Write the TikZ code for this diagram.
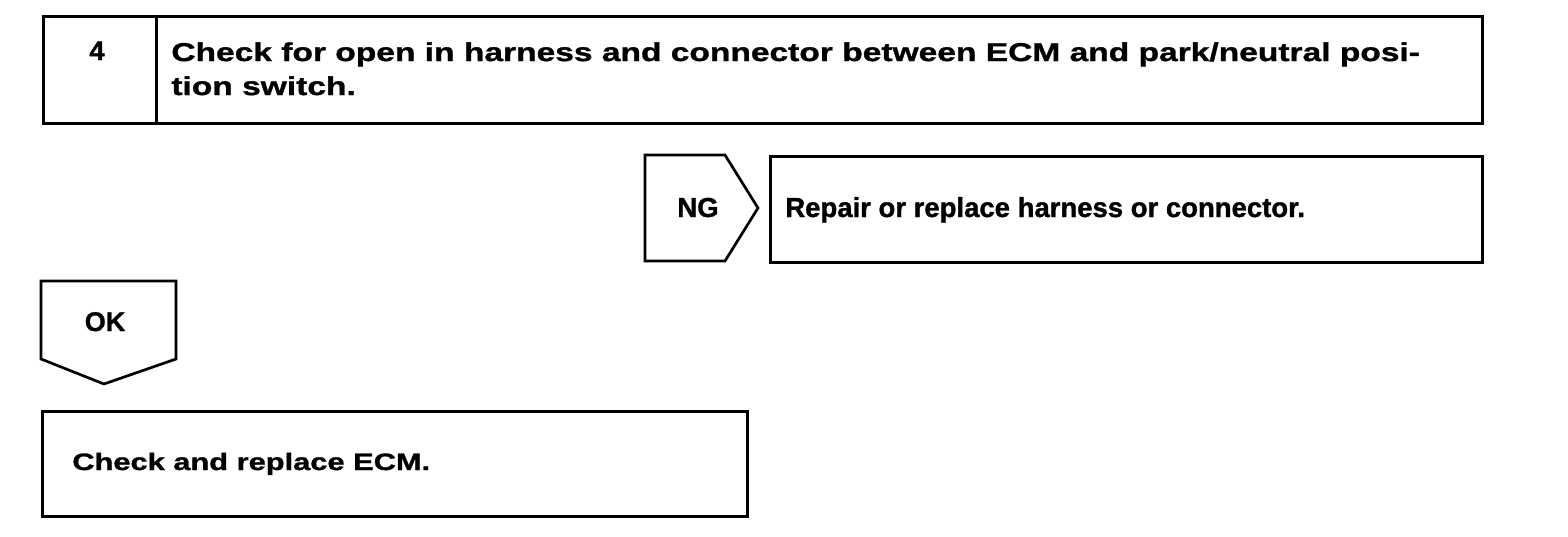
\documentclass[tikz,border=0pt]{standalone}
\usepackage{fontspec}
\setmainfont{Liberation Sans}[BoldFeatures={FakeBold=1.2}]
\newfontfamily\widesans{Liberation Sans}[FakeStretch=1.3, BoldFeatures={FakeBold=1.2}]
\usetikzlibrary{positioning}

\begin{document}
\begin{tikzpicture}[x=1pt, y=-1pt, line width=2.7pt, font=\bfseries]
  \useasboundingbox (0,0) rectangle (1568,536);
  % step 4 heading
  \node[draw, anchor=north west, minimum width=113pt, minimum height=107pt, inner sep=0pt] (num) at (42,15) {};
  \node[draw, anchor=north west, minimum width=1326pt, minimum height=107pt, inner sep=0pt] (check) at (155,15) {};
  \node[anchor=base, font=\fontsize{27}{33}\selectfont\bfseries] (numtxt) at (97,60) {4};
  \node[anchor=north west, align=left, inner sep=0pt, font=\widesans\fontsize{25.8}{34}\selectfont\bfseries] (checktxt) at (170,41) {Check for open in harness and connector between ECM and park/neutral posi-\\tion switch.};

  % NG branch
  \draw (645,155) coordinate (ng) -- (725,155) -- (758,208) -- (725,261) -- (645,261) -- cycle;
  \node[anchor=base, font=\fontsize{27.5}{33}\selectfont\bfseries] (ngtxt) at (698,217) {NG};
  \node[draw, anchor=north west, minimum width=712pt, minimum height=106pt, inner sep=0pt] (repair) at (769,155) {};
  \node[anchor=base west, inner sep=0pt, font=\fontsize{27.5}{33}\selectfont\bfseries] (repairtxt) at (784,217) {Repair or replace harness or connector.};

  % OK branch
  \draw (41,281) coordinate (ok) -- (176,281) -- (176,359) -- (104,384) -- (41,359) -- cycle;
  \node[anchor=base, font=\fontsize{27}{33}\selectfont\bfseries] (oktxt) at (105,331) {OK};
  \node[draw, anchor=north west, minimum width=705pt, minimum height=105pt, inner sep=0pt] (ecm) at (41,410) {};
  \node[anchor=base west, inner sep=0pt, font=\widesans\fontsize{23.7}{33}\selectfont\bfseries] (ecmtxt) at (71,470) {Check and replace ECM.};
\end{tikzpicture}
\end{document}
